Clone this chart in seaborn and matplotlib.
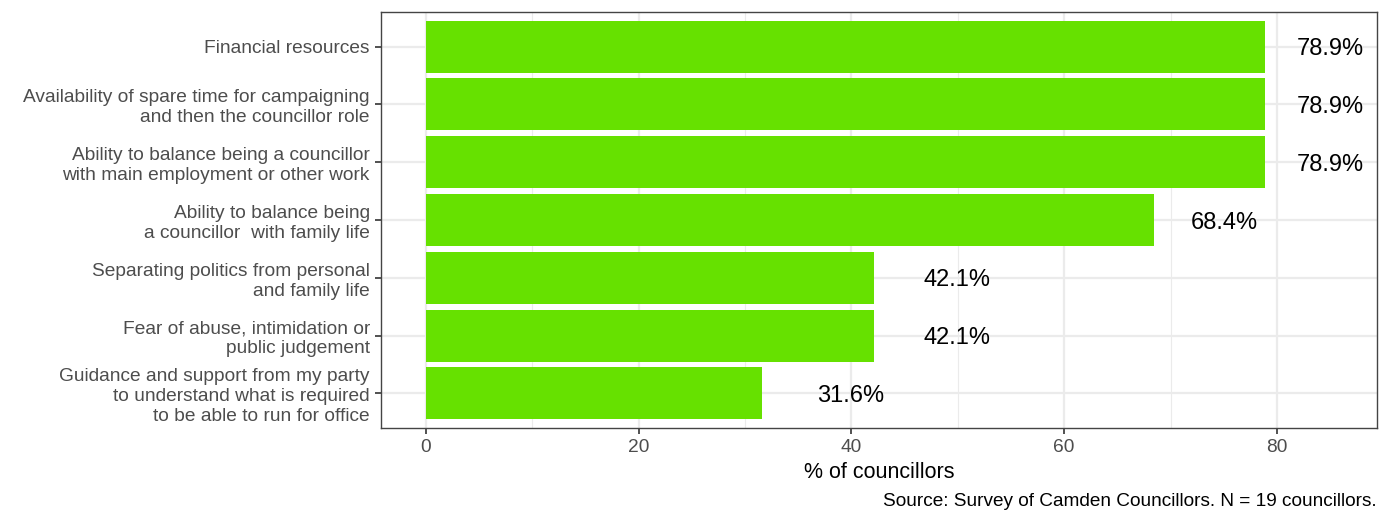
import matplotlib
matplotlib.use("Agg")
import matplotlib.pyplot as plt
import seaborn as sns
import pandas as pd
import numpy as np
from matplotlib.ticker import MultipleLocator

categories = [
    "Financial resources",
    "Availability of spare time for campaigning\nand then the councillor role",
    "Ability to balance being a councillor\nwith main employment or other work",
    "Ability to balance being\na councillor  with family life",
    "Separating politics from personal\nand family life",
    "Fear of abuse, intimidation or\npublic judgement",
    "Guidance and support from my party\nto understand what is required\nto be able to run for office",
]
values = [78.9, 78.9, 78.9, 68.4, 42.1, 42.1, 31.6]
labels = ["78.9%", "78.9%", "78.9%", "68.4%", "42.1%", "42.1%", "31.6%"]
x_ticks = [0, 20, 40, 60, 80]

sns.set_theme(style="white")
plt.rcParams["font.family"] = ["Liberation Sans", "DejaVu Sans"]

df = pd.DataFrame({"cat": categories, "val": values})

fig = plt.figure(figsize=(13.99, 5.11), dpi=100)
ax = fig.add_axes([381 / 1399, 1 - 428 / 511, (1377 - 381) / 1399, (428 - 12) / 511])

sns.barplot(data=df, x="val", y="cat", color="#66E100", saturation=1,
            width=0.9, orient="h", ax=ax, zorder=2, linewidth=0)

for i, (v, lab) in enumerate(zip(values, labels)):
    ax.text(v * 0.9535 + 9.8, i, lab, ha="center", va="center_baseline",
            fontsize=17, color="black", zorder=3)

ax.set_xlim(-4.2, 89.4)
ax.set_ylim(6.6, -0.6)
ax.set_xticks(x_ticks)
ax.set_xticklabels([str(t) for t in x_ticks])
ax.xaxis.set_minor_locator(MultipleLocator(10))
ax.grid(True, which="major", axis="both", color="#EBEBEB", linewidth=1.6, zorder=0)
ax.grid(True, which="minor", axis="x", color="#EBEBEB", linewidth=0.8, zorder=0)
ax.set_axisbelow(True)

for s in ax.spines.values():
    s.set_visible(True)
    s.set_color("#444444")
    s.set_linewidth(1.0)

ax.tick_params(axis="both", which="major", length=4, width=1.2, color="#333333",
               labelsize=13.8, labelcolor="#4D4D4D", pad=4, left=True, bottom=True)
ax.tick_params(axis="x", which="minor", length=0)
for t in ax.get_yticklabels():
    t.set_linespacing(1.22)
ax.set_xlabel("% of councillors", fontsize=15.5, color="black", labelpad=4)
ax.set_ylabel("")

fig.text(1377 / 1399, 1 - 501 / 511, "Source: Survey of Camden Councillors. N = 19 councillors.",
         ha="right", va="center", fontsize=13.7, color="black")

fig.savefig("out.png", dpi=100)
